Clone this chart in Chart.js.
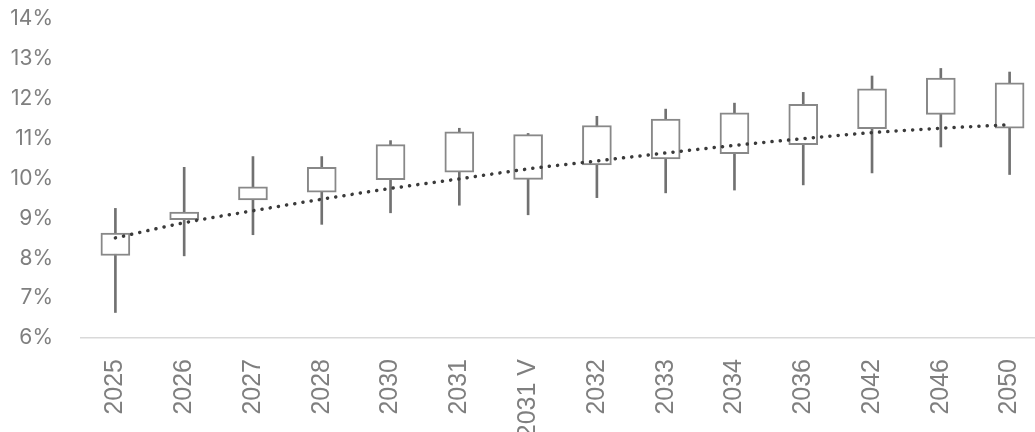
<!DOCTYPE html>
<html>
<head>
<meta charset="utf-8">
<script src="https://cdn.jsdelivr.net/npm/chart.js@4.4.1/dist/chart.umd.min.js"></script>
<style>
  html, body { margin: 0; padding: 0; background: #ffffff; overflow: hidden; }
  #wrap { position: relative; width: 1044px; height: 440px; }
</style>
</head>
<body>
<div id="wrap"><canvas id="c"></canvas></div>
<script>
const categories = ['2025','2026','2027','2028','2030','2031','2031 V','2032','2033','2034','2036','2042','2046','2050'];
const boxLow      = [8.07, 8.97, 9.46, 9.66, 9.97, 10.16, 9.98, 10.34, 10.49, 10.62, 10.85, 11.25, 11.61, 11.26];
const boxHigh     = [8.63, 9.16, 9.79, 10.28, 10.85, 11.17, 11.10, 11.33, 11.49, 11.65, 11.86, 12.25, 12.52, 12.40];
const whiskerLow  = [6.64, 8.06, 8.59, 8.85, 9.14, 9.33, 9.09, 9.52, 9.64, 9.71, 9.84, 10.14, 10.79, 10.10];
const whiskerHigh = [9.25, 10.28, 10.55, 10.55, 10.95, 11.26, 11.13, 11.56, 11.74, 11.89, 12.16, 12.57, 12.76, 12.67];
const trend       = [8.51, 8.89, 9.19, 9.48, 9.75, 9.99, 10.24, 10.44, 10.64, 10.83, 11.00, 11.15, 11.26, 11.35];
const yMin = 6, yMax = 14, yStep = 1;

const boxData = boxLow.map((v, i) => [v, boxHigh[i]]);
const whiskerData = whiskerLow.map((v, i) => [v, whiskerHigh[i]]);

new Chart(document.getElementById('c'), {
  data: {
    labels: categories,
    datasets: [
      {
        type: 'line',
        label: 'Trend',
        data: trend,
        borderColor: '#3a3a3a',
        borderWidth: 3.5,
        borderDash: [0.1, 8.2],
        borderCapStyle: 'round',
        pointRadius: 0,
        fill: false,
        cubicInterpolationMode: 'monotone',
        order: 0
      },
      {
        type: 'bar',
        label: 'Box',
        data: boxData,
        backgroundColor: '#ffffff',
        borderColor: '#888888',
        borderWidth: 2,
        borderSkipped: false,
        barThickness: 29,
        grouped: false,
        order: 1
      },
      {
        type: 'bar',
        label: 'Range',
        data: whiskerData,
        backgroundColor: '#717171',
        borderWidth: 0,
        barThickness: 2,
        grouped: false,
        order: 2
      }
    ]
  },
  options: {
    responsive: true,
    maintainAspectRatio: false,
    animation: false,
    layout: { padding: { top: 19, right: 0, bottom: 0, left: 0 } },
    plugins: { legend: { display: false }, tooltip: { enabled: false } },
    scales: {
      x: {
        type: 'category',
        offset: true,
        grid: { display: false, drawTicks: false },
        border: { display: true, color: '#d9d9d9', width: 1.5 },
        ticks: {
          color: '#7f7f7f',
          font: { family: '"Liberation Sans", Arial, sans-serif', size: 25 },
          minRotation: 90,
          maxRotation: 90,
          padding: 21,
          autoSkip: false
        },
        afterFit: (scale) => { scale.height = 102; scale.paddingLeft = 0; scale.paddingRight = 0; }
      },
      y: {
        min: yMin,
        max: yMax,
        grid: { display: false, drawTicks: false },
        border: { display: false },
        ticks: {
          stepSize: yStep,
          color: '#7f7f7f',
          font: { family: 'Inter, "Open Sans", sans-serif', size: 21, weight: '400' },
          padding: 28,
          callback: (v) => v + '%'
        },
        afterFit: (scale) => { scale.width = 81; scale.paddingTop = 0; scale.paddingBottom = 0; }
      }
    }
  }
});
</script>
</body>
</html>
